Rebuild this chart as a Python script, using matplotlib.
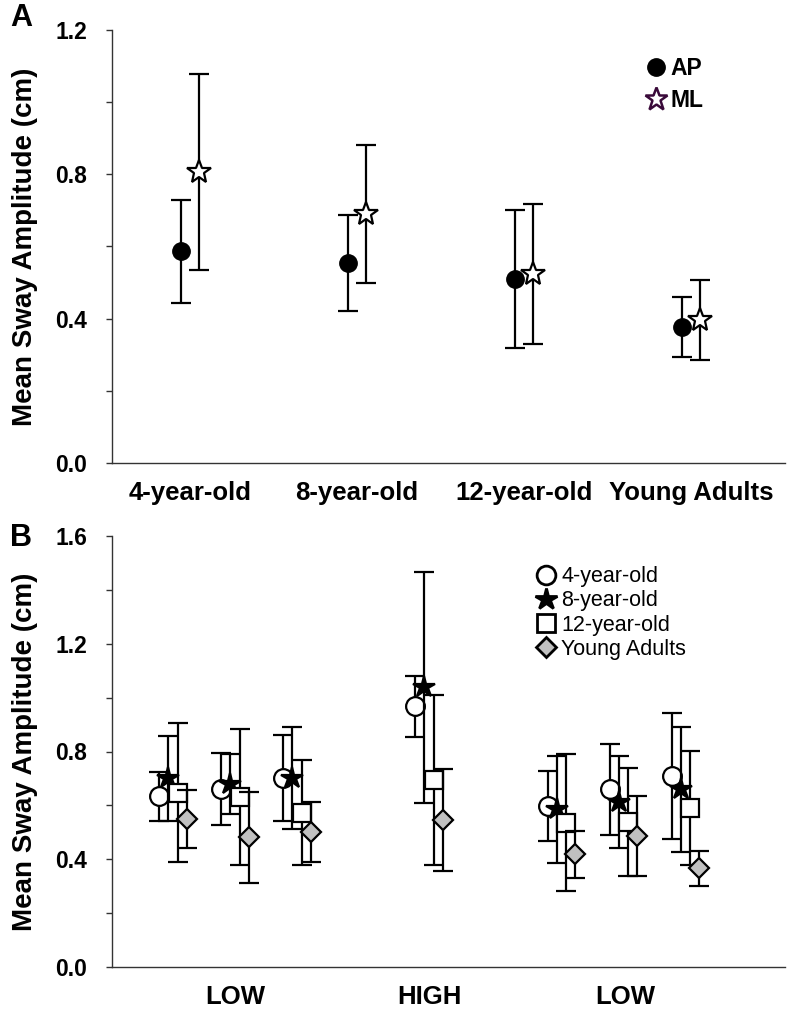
import matplotlib
matplotlib.use("Agg")
import matplotlib.pyplot as plt
from matplotlib.lines import Line2D
import numpy as np

plt.rcParams['font.family'] = ['Liberation Sans', 'DejaVu Sans']

# ---------------- data: panel A ----------------
groups_a = ["4-year-old", "8-year-old", "12-year-old", "Young Adults"]
ap_mean = [0.587, 0.554, 0.510, 0.377]
ap_err = [0.143, 0.133, 0.190, 0.083]
ml_mean = [0.806, 0.690, 0.524, 0.396]
ml_err = [0.271, 0.190, 0.194, 0.110]

# ---------------- data: panel B ----------------
conditions_b = ["LOW", "HIGH", "LOW"]
series_b = ["4-year-old", "8-year-old", "12-year-old", "Young Adults"]
# each list: 7 trials (3 LOW, 1 HIGH, 3 LOW)
yo4_mean = [0.633, 0.660, 0.702, 0.968, 0.597, 0.659, 0.709]
yo4_err = [0.092, 0.133, 0.160, 0.113, 0.130, 0.168, 0.233]
yo8_mean = [0.700, 0.679, 0.702, 1.038, 0.585, 0.613, 0.659]
yo8_err = [0.158, 0.111, 0.188, 0.429, 0.200, 0.172, 0.232]
yo12_mean = [0.647, 0.632, 0.573, 0.694, 0.536, 0.539, 0.589]
yo12_err = [0.258, 0.253, 0.196, 0.317, 0.254, 0.200, 0.212]
ya_mean = [0.549, 0.481, 0.500, 0.545, 0.418, 0.486, 0.366]
ya_err = [0.107, 0.170, 0.112, 0.190, 0.087, 0.149, 0.065]

W, H = 790, 1011
fig = plt.figure(figsize=(W / 100, H / 100), dpi=100)

def px_axes(left, top, right, bottom):
    return fig.add_axes([left / W, 1 - bottom / H, (right - left) / W, (bottom - top) / H])

def style_axes(ax):
    for s in ['top', 'right']:
        ax.spines[s].set_visible(False)
    for s in ['left', 'bottom']:
        ax.spines[s].set_linewidth(1.0)
        ax.spines[s].set_color('#333333')
    ax.tick_params(axis='y', which='major', direction='out', length=4, width=1,
                   labelsize=16.5, pad=14, color='#333333')
    ax.tick_params(axis='y', which='minor', direction='out', length=4, width=1, color='#333333')
    ax.tick_params(axis='x', length=0, labelsize=18.5, pad=13)
    for lab in ax.get_yticklabels() + ax.get_xticklabels():
        lab.set_fontweight('bold')

# ---------------- Panel A ----------------
axA = px_axes(112, 30, 785, 463)
xa = np.arange(len(groups_a))
off_a = 0.054
eb_kw = dict(ecolor='black', elinewidth=1.6, capsize=7, capthick=1.6, linestyle='none')
axA.errorbar(xa - off_a, ap_mean, yerr=ap_err, marker='o', markersize=12.5,
             markerfacecolor='black', markeredgecolor='black', zorder=3, **eb_kw)
axA.errorbar(xa + off_a, ml_mean, yerr=ml_err, marker='*', markersize=18,
             markerfacecolor='white', markeredgecolor='black', markeredgewidth=1.6,
             zorder=3, **eb_kw)
axA.set_xlim(-0.466, 3.56)
axA.set_ylim(0, 1.2)
axA.set_yticks([0.0, 0.4, 0.8, 1.2])
axA.set_yticks([0.2, 0.6, 1.0], minor=True)
axA.set_yticklabels(['0.0', '0.4', '0.8', '1.2'])
axA.set_xticks(xa)
axA.set_xticklabels(groups_a)
style_axes(axA)
axA.set_ylabel("Mean Sway Amplitude (cm)", fontsize=20, fontweight='bold')
axA.yaxis.set_label_coords((38 - 112) / (785 - 112), 0.5)

hA = [Line2D([], [], marker='o', color='none', markerfacecolor='black',
             markeredgecolor='black', markersize=12.5),
      Line2D([], [], marker='*', color='none', markerfacecolor='white',
             markeredgecolor='#3a0a3a', markeredgewidth=1.8, markersize=17)]
axA.legend(hA, ['AP', 'ML'], loc='upper left', bbox_to_anchor=(0.76, 0.985),
           frameon=False, handlelength=1.0, handletextpad=0.15, labelspacing=0.4,
           prop={'weight': 'bold', 'size': 16.5})

# ---------------- Panel B ----------------
axB = px_axes(112, 536, 785, 967)
trial_pos = np.array([1.0, 2.0, 3.0, 5.13, 7.26, 8.27, 9.26])
offs_b = [-0.22, -0.075, 0.075, 0.22]
styles_b = [
    dict(marker='o', markersize=13.5, markerfacecolor='white', markeredgecolor='black'),
    dict(marker='*', markersize=16, markerfacecolor='black', markeredgecolor='black'),
    dict(marker='s', markersize=12.5, markerfacecolor='white', markeredgecolor='black'),
    dict(marker='D', markersize=10, markerfacecolor='#c0c0c0', markeredgecolor='black'),
]
means_b = [yo4_mean, yo8_mean, yo12_mean, ya_mean]
errs_b = [yo4_err, yo8_err, yo12_err, ya_err]
for k in range(4):
    axB.errorbar(trial_pos + offs_b[k], means_b[k], yerr=errs_b[k],
                 markeredgewidth=1.6, zorder=3 + k, **eb_kw, **styles_b[k])
axB.set_xlim(0.016, 10.87)
axB.set_ylim(0, 1.6)
axB.set_yticks([0.0, 0.4, 0.8, 1.2, 1.6])
axB.set_yticks([0.2, 0.6, 1.0, 1.4], minor=True)
axB.set_yticklabels(['0.0', '0.4', '0.8', '1.2', '1.6'])
axB.set_xticks([2.0, 5.13, 8.3])
axB.set_xticklabels(conditions_b)
style_axes(axB)
axB.set_ylabel("Mean Sway Amplitude (cm)", fontsize=20, fontweight='bold')
axB.yaxis.set_label_coords((38 - 112) / (785 - 112), 0.5)

hB = [Line2D([], [], color='none', markeredgewidth=2.0, **s) for s in styles_b]
axB.legend(hB, series_b, loc='upper left', bbox_to_anchor=(0.6, 0.975),
           frameon=False, handlelength=1.0, handletextpad=0.2, labelspacing=0.15,
           prop={'size': 15.5})

fig.text(10 / W, 1 - 18 / H, 'A', fontsize=22, fontweight='bold', va='center', ha='left')
fig.text(10 / W, 1 - 538 / H, 'B', fontsize=22, fontweight='bold', va='center', ha='left')

fig.savefig('out.png', dpi=100)
